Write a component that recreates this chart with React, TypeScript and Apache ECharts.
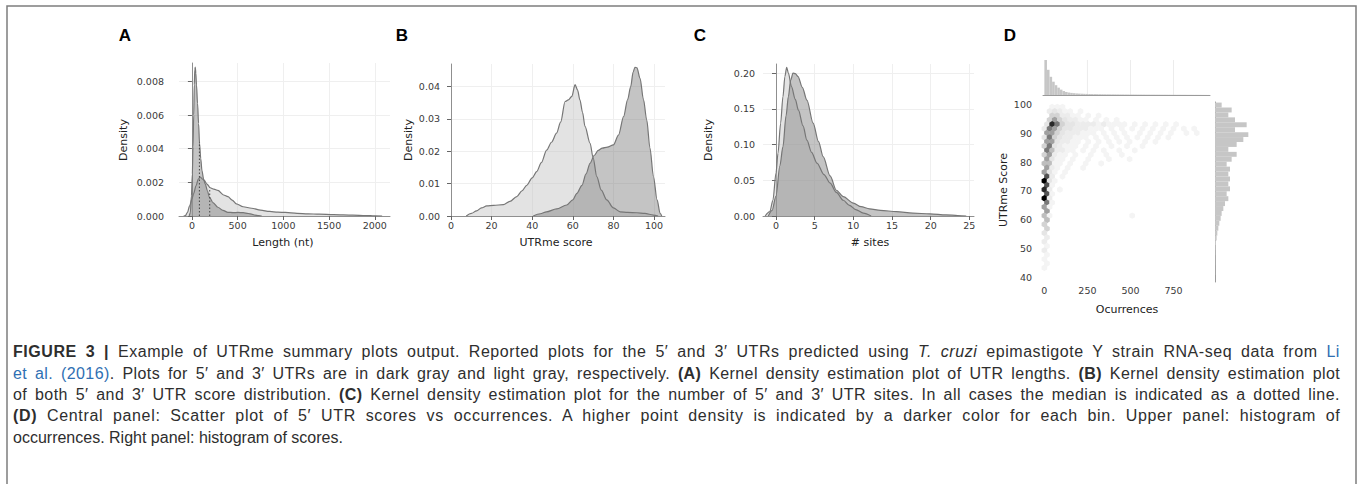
import React, { useEffect, useLayoutEffect, useRef } from "react";
import * as echarts from "echarts";

// ---------- Panel A : UTR length KDE ----------
const lenX5 = [-30, -17, -5, 5, 12, 20, 26, 32, 37, 43, 50, 62, 73, 84, 97, 110, 128, 146, 170, 191, 230, 284, 340, 394, 450, 504, 560, 616, 660, 689, 730, 763];
const lenD5 = [0, 0.0002, 0.0012, 0.0025, 0.0041, 0.006, 0.0078, 0.0087, 0.00885, 0.0085, 0.0078, 0.0067, 0.0055, 0.0043, 0.0034, 0.0027, 0.0022, 0.0019, 0.0015, 0.00112, 0.0008, 0.00052, 0.00033, 0.00022, 0.0002, 0.00021, 0.0002, 0.00015, 0.0001, 0.00005, 0.00002, 0];
const lenX3 = [-90, -72, -50, -25, 0, 19, 45, 70, 92, 115, 135, 165, 200, 240, 284, 346, 394, 440, 486, 560, 653, 750, 850, 940, 1021, 1150, 1270, 1390, 1550, 1759, 1900, 2000, 2080];
const lenD3 = [0, 0.00002, 0.0002, 0.0006, 0.001, 0.00133, 0.0018, 0.0022, 0.00232, 0.0022, 0.00212, 0.0019, 0.00168, 0.0016, 0.00152, 0.00125, 0.00115, 0.00095, 0.00072, 0.00055, 0.00046, 0.00035, 0.00027, 0.00023, 0.00021, 0.00016, 0.00013, 0.00011, 0.00008, 0.00005, 0.00003, 0.00001, 0];
const lenMedians = [82, 195];
const lenMedianHeights = [0.0044, 0.00168];
const lenTicks = [0, 500, 1000, 1500, 2000];
const lenDensityTicks = [0, 0.002, 0.004, 0.006, 0.008];

// ---------- Panel B : UTRme score KDE ----------
const scoreX5 = [40.5, 44, 47, 52, 57, 60, 62, 64.5, 66.5, 68.5, 70.5, 72.5, 74.5, 77, 80, 82.5, 85, 87, 88.5, 89.7, 90.6, 91.6, 93.1, 94.8, 96.4, 98, 99.7, 101.5, 103, 103.8];
const scoreD5 = [0, 0.0007, 0.0013, 0.0022, 0.0034, 0.005, 0.007, 0.0095, 0.013, 0.0163, 0.0187, 0.0203, 0.021, 0.0213, 0.022, 0.025, 0.0307, 0.036, 0.04, 0.0445, 0.046, 0.0458, 0.0426, 0.036, 0.0297, 0.021, 0.0122, 0.005, 0.0008, 0];
const scoreX3 = [7.5, 10, 12.6, 15, 17.6, 21, 25.8, 29, 32.4, 35, 37.3, 40, 42.2, 44.5, 47.1, 49.5, 52, 54, 56.2, 57.8, 59.5, 61.1, 62.3, 63.5, 64.8, 66, 68.5, 70, 71.8, 74, 76.7, 80, 83.3, 87, 91.5, 95.5, 99.7, 102];
const scoreD3 = [0, 0.0008, 0.0016, 0.0025, 0.0031, 0.0033, 0.0035, 0.0045, 0.006, 0.0078, 0.0095, 0.0118, 0.0137, 0.0165, 0.0204, 0.0228, 0.0256, 0.029, 0.0354, 0.0359, 0.037, 0.0406, 0.039, 0.0359, 0.032, 0.0277, 0.0225, 0.018, 0.0122, 0.008, 0.005, 0.0025, 0.0013, 0.0011, 0.001, 0.0008, 0.0003, 0];
const scoreTicks = [0, 20, 40, 60, 80, 100];
const scoreDensityTicks = [0, 0.01, 0.02, 0.03, 0.04];

// ---------- Panel C : number of sites KDE ----------
const sitesX5 = [-1.0, -0.5, 0, 0.5, 0.9, 1.3, 1.6, 1.9, 2.2, 2.5, 2.85, 3.4, 4.0, 4.8, 5.5, 6.1, 7.0, 7.8, 8.7, 10, 11, 12.1, 13.5, 15.6, 17.7, 19.9, 22, 23.5, 24.6];
const sitesD5 = [0, 0.008, 0.028, 0.07, 0.097, 0.14, 0.167, 0.19, 0.2, 0.199, 0.195, 0.18, 0.162, 0.13, 0.104, 0.083, 0.056, 0.036, 0.027, 0.018, 0.013, 0.01, 0.008, 0.006, 0.004, 0.003, 0.0015, 0.0007, 0];
const sitesX3 = [-1.4, -0.8, -0.4, 0, 0.26, 0.6, 0.9, 1.15, 1.38, 1.6, 2.0, 2.5, 2.9, 3.5, 4.0, 4.6, 5.3, 6.2, 7.0, 7.8, 8.7, 9.5, 10.3, 11.3, 12.3];
const sitesD3 = [0, 0.006, 0.022, 0.06, 0.088, 0.13, 0.167, 0.195, 0.208, 0.2, 0.181, 0.163, 0.148, 0.126, 0.106, 0.089, 0.074, 0.058, 0.046, 0.033, 0.022, 0.015, 0.009, 0.004, 0];
const sitesTicks = [0, 5, 10, 15, 20, 25];
const sitesDensityTicks = [0, 0.05, 0.1, 0.15, 0.2];

// ---------- Panel D : hexbin of score vs occurrences ----------
// rows: [score, [[occurrences, count], ...]]
const hexRows: [number, [number, number][]][] = [
  [99, [[45, 1], [75, 1], [105, 1]]],
  [97.5, [[30, 2], [60, 3], [90, 2], [120, 1], [150, 1], [210, 1]]],
  [96, [[45, 4], [75, 4], [105, 2], [135, 2], [165, 1], [195, 1], [255, 1], [315, 1]]],
  [94.5, [[30, 4], [60, 6], [90, 4], [120, 3], [150, 2], [180, 2], [210, 1], [240, 1], [300, 1], [360, 1], [420, 1]]],
  [93, [[15, 3], [45, 9], [75, 7], [105, 4], [135, 3], [165, 3], [195, 2], [225, 2], [255, 2], [285, 2], [315, 1], [345, 2], [375, 1], [405, 1], [435, 1], [465, 1], [525, 1], [585, 1], [645, 1], [705, 1], [765, 1]]],
  [91.5, [[0, 2], [30, 7], [60, 6], [90, 4], [120, 3], [150, 3], [180, 2], [210, 2], [240, 2], [270, 1], [300, 1], [330, 1], [390, 1], [450, 1], [510, 1], [570, 1], [630, 1], [690, 1], [750, 1], [810, 1], [870, 1]]],
  [90, [[15, 6], [45, 6], [75, 4], [105, 3], [135, 2], [165, 2], [195, 2], [225, 1], [255, 1], [285, 1], [345, 1], [405, 1], [465, 1], [555, 1], [615, 1], [675, 1], [735, 1], [825, 1], [885, 1]]],
  [88.5, [[0, 3], [30, 7], [60, 4], [90, 3], [120, 2], [150, 2], [180, 1], [210, 1], [240, 1], [300, 1], [360, 1], [420, 1], [480, 1], [540, 1], [600, 1], [660, 1], [720, 1]]],
  [87, [[15, 6], [45, 6], [75, 3], [105, 2], [135, 2], [165, 1], [195, 1], [255, 1], [315, 1], [375, 1], [435, 1], [495, 1], [585, 1], [645, 1]]],
  [85.5, [[0, 4], [30, 7], [60, 3], [90, 2], [120, 1], [150, 1], [180, 1], [240, 1], [300, 1], [390, 1], [480, 1], [570, 1]]],
  [84, [[15, 7], [45, 5], [75, 2], [105, 2], [135, 1], [165, 1], [225, 1], [285, 1], [345, 1], [435, 1], [525, 1]]],
  [82.5, [[0, 4], [30, 6], [60, 2], [90, 1], [120, 1], [180, 1], [270, 1], [360, 1], [450, 1]]],
  [81, [[15, 6], [45, 3], [75, 1], [105, 1], [165, 1], [255, 1], [375, 1], [495, 1]]],
  [79.5, [[0, 5], [30, 5], [60, 1], [90, 1], [150, 1], [240, 1], [330, 1]]],
  [78, [[15, 6], [45, 2], [75, 1], [135, 1], [225, 1]]],
  [76.5, [[0, 6], [30, 3], [60, 1], [120, 1]]],
  [75, [[15, 8], [45, 2], [105, 1]]],
  [73.5, [[0, 10], [30, 3], [60, 1]]],
  [72, [[15, 8], [45, 1]]],
  [70.5, [[0, 9], [30, 2], [90, 1]]],
  [69, [[15, 8], [45, 1]]],
  [67.5, [[0, 10], [30, 2]]],
  [66, [[15, 7], [45, 1]]],
  [64.5, [[0, 6], [30, 1]]],
  [63, [[15, 6]]],
  [61.5, [[0, 5], [30, 1], [510, 1]]],
  [60, [[15, 5]]],
  [58.5, [[0, 4]]],
  [57, [[15, 4]]],
  [55.5, [[0, 3]]],
  [54, [[15, 2]]],
  [52.5, [[0, 2]]],
  [51, [[15, 1]]],
  [49.5, [[0, 2]]],
  [48, [[15, 1]]],
  [46.5, [[0, 1]]],
  [45, [[15, 1]]],
  [43.5, [[0, 1]]],
];
const occTicks = [0, 250, 500, 750];
const jointScoreTicks = [40, 50, 60, 70, 80, 90, 100];
const occGridValues = [250, 500, 750];

// marginal histogram of occurrences (bins of equal width from occHistStart)
const occHistStart = 0;
const occHistWidth = 15;
const occHistCounts = [1500, 1080, 780, 570, 420, 315, 230, 170, 130, 105, 90, 78, 68, 60, 55, 50, 46, 43, 40, 38, 36, 34, 32, 30, 29, 28, 27, 26, 25, 24, 23, 22, 21, 20, 20, 19, 18, 18, 17, 16, 16, 15, 15, 14, 14, 13, 13, 12, 12, 11, 11, 10, 10, 9, 9, 8, 8, 7, 7, 6, 6, 5, 4, 3];

// marginal histogram of scores (bins of equal width from scoreHistStart, low -> high)
const scoreHistStart = 41.0;
const scoreHistWidth = 1.7;
const scoreHistCounts = [6, 6, 10, 10, 15, 20, 30, 50, 70, 100, 130, 170, 200, 250, 300, 400, 350, 450, 400, 450, 400, 450, 350, 500, 650, 400, 650, 850, 1000, 600, 950, 600, 400, 500, 200];

// ---------- layout ----------
const W = 1358;
const H = 484;
const CAP_LEFT = 13;
const CAP_WIDTH = 1327;
const capTops = [352, 373.5, 395, 416, 437.5];

const tickFont = { fontFamily: '"DejaVu Sans", sans-serif', fontSize: 9.5, color: "#3a3a3a" };
const spine = { show: true, lineStyle: { color: "#8f8f8f", width: 1 } };
const grid = { show: true, lineStyle: { color: "#efefef", width: 1 } };
const tick = (vals: number[]) => ({ show: true, length: 4, customValues: vals, lineStyle: { color: "#666", width: 1 } });

const pairs = (xs: number[], ys: number[]) => xs.map((x, i) => [x, ys[i]]);

const DARK = "#7c7c7c";
const LIGHT = "#c2c2c2";

function kde(name: string, axis: number, xs: number[], ys: number[], fill: string, opacity: number) {
  return {
    type: "line",
    name,
    xAxisIndex: axis,
    yAxisIndex: axis,
    data: pairs(xs, ys),
    showSymbol: false,
    symbol: "none",
    smooth: 0.3,
    smoothMonotone: "x",
    lineStyle: { color: "#767676", width: 1.2 },
    areaStyle: { color: fill, opacity },
    silent: true,
    z: 2,
  };
}

function vline(axis: number, x: number, top: number, color: string, type: any, z: number) {
  return {
    type: "line",
    xAxisIndex: axis,
    yAxisIndex: axis,
    data: [[x, 0], [x, top]],
    showSymbol: false,
    symbol: "none",
    lineStyle: { color, width: 1, type },
    silent: true,
    z,
  };
}

function buildOption() {
  const hexCells: number[][] = [];
  hexRows.forEach(([score, cells]) => cells.forEach(([occ, c]) => hexCells.push([occ, score, c])));

  const occHist = occHistCounts.map((c, i) => [occHistStart + i * occHistWidth, occHistStart + (i + 1) * occHistWidth, c]);
  const scoreHist = scoreHistCounts.map((c, i) => [scoreHistStart + i * scoreHistWidth, scoreHistStart + (i + 1) * scoreHistWidth, c]);

  const valAxis = (gridIndex: number, min: number, max: number, ticks: number[], fmt: (v: number) => string, margin: number, showGrid = true) => ({
    type: "value",
    gridIndex,
    min,
    max,
    axisLine: spine,
    axisTick: tick(ticks),
    axisLabel: { ...tickFont, margin, customValues: ticks, formatter: fmt },
    splitLine: showGrid ? grid : { show: false },
  });

  const hidden = (gridIndex: number, min: number, max: number, line = false) => ({
    type: "value",
    gridIndex,
    min,
    max,
    axisLine: { show: line, lineStyle: { color: "#9a9a9a", width: 1 } },
    axisTick: { show: false },
    axisLabel: { show: false },
    splitLine: { show: false },
  });

  const txt = (x: number, y: number, text: string, size: number, opts: any = {}) => ({
    type: "text",
    x,
    y,
    rotation: opts.rotation || 0,
    silent: true,
    style: {
      text,
      fontSize: size,
      fontFamily: opts.family || '"DejaVu Sans", sans-serif',
      fontWeight: opts.weight || "normal",
      fill: opts.fill || "#222",
      align: "center",
      verticalAlign: "middle",
    },
  });

  const letter = { family: '"Liberation Sans", Arial, sans-serif', weight: "bold", fill: "#000" };

  return {
    animation: false,
    backgroundColor: "#ffffff",
    grid: [
      { left: 179, top: 63, width: 211, height: 153 },
      { left: 451, top: 64, width: 214, height: 152 },
      { left: 763, top: 64, width: 211, height: 152 },
      { left: 1043, top: 102, width: 167, height: 180 },
      { left: 1043, top: 60, width: 167, height: 35 },
      { left: 1215, top: 102, width: 40, height: 180 },
    ],
    xAxis: [
      valAxis(0, -141, 2166, lenTicks, (v) => String(v), 4),
      valAxis(1, 0, 105.4, scoreTicks, (v) => String(v), 4),
      valAxis(2, -1.68, 25.6, sitesTicks, (v) => String(v), 4),
      {
        type: "value",
        gridIndex: 3,
        min: -8,
        max: 962,
        axisLine: { show: false },
        axisTick: { show: false },
        axisLabel: { ...tickFont, margin: 3, customValues: occTicks, formatter: (v: number) => String(v) },
        splitLine: { show: false },
      },
      hidden(4, -8, 962, true),
      hidden(5, 0, 1200),
    ],
    yAxis: [
      valAxis(0, 0, 0.0091, lenDensityTicks, (v) => v.toFixed(3), 15),
      valAxis(1, 0, 0.047, scoreDensityTicks, (v) => v.toFixed(2), 11),
      valAxis(2, 0, 0.2126, sitesDensityTicks, (v) => v.toFixed(2), 8),
      {
        type: "value",
        gridIndex: 3,
        min: 38.6,
        max: 100.7,
        axisLine: { show: false },
        axisTick: { show: false },
        axisLabel: { ...tickFont, margin: 11, customValues: jointScoreTicks, formatter: (v: number) => String(v) },
        splitLine: { show: false },
      },
      hidden(4, 0, 1500),
      hidden(5, 38.6, 100.7, true),
    ],
    visualMap: [
      {
        type: "continuous",
        show: false,
        seriesIndex: 10,
        dimension: 2,
        min: 1,
        max: 10,
        inRange: { color: ["#f4f4f4", "#e3e3e3", "#b4b4b4", "#5c5c5c", "#000000"] },
      },
    ],
    series: [
      kde("3' UTR length", 0, lenX3, lenD3, LIGHT, 0.45),
      kde("5' UTR length", 0, lenX5, lenD5, DARK, 0.45),
      vline(0, lenMedians[0], lenMedianHeights[0], "#444", [1.5, 2], 4),
      vline(0, lenMedians[1], lenMedianHeights[1], "#444", [1.5, 2], 4),
      kde("3' UTR score", 1, scoreX3, scoreD3, LIGHT, 0.45),
      kde("5' UTR score", 1, scoreX5, scoreD5, DARK, 0.45),
      kde("3' UTR sites", 2, sitesX3, sitesD3, LIGHT, 0.45),
      kde("5' UTR sites", 2, sitesX5, sitesD5, DARK, 0.45),
      vline(4, occGridValues[0], 1500, "#ececec", "solid", 1),
      vline(4, occGridValues[1], 1500, "#ececec", "solid", 1),
      {
        type: "scatter",
        xAxisIndex: 3,
        yAxisIndex: 3,
        data: hexCells,
        symbol: "path://M0,-10L8.66,-5L8.66,5L0,10L-8.66,5L-8.66,-5Z",
        symbolSize: [5.6, 6.4],
        itemStyle: { opacity: 1 },
        silent: true,
        z: 3,
      },
      vline(4, occGridValues[2], 1500, "#ececec", "solid", 1),
      {
        type: "custom",
        xAxisIndex: 4,
        yAxisIndex: 4,
        data: occHist,
        encode: { x: [0, 1], y: 2 },
        silent: true,
        z: 3,
        renderItem: (params: any, api: any) => {
          const p0 = api.coord([api.value(0), api.value(2)]);
          const p1 = api.coord([api.value(1), 0]);
          return {
            type: "rect",
            shape: { x: p0[0], y: p0[1], width: p1[0] - p0[0], height: p1[1] - p0[1] },
            style: { fill: "#c6c6c6", stroke: null },
          };
        },
      },
      {
        type: "custom",
        xAxisIndex: 5,
        yAxisIndex: 5,
        data: scoreHist,
        encode: { y: [0, 1], x: 2 },
        silent: true,
        z: 3,
        renderItem: (params: any, api: any) => {
          const p0 = api.coord([0, api.value(1)]);
          const p1 = api.coord([api.value(2), api.value(0)]);
          return {
            type: "rect",
            shape: { x: p0[0], y: p0[1], width: p1[0] - p0[0], height: p1[1] - p0[1] },
            style: { fill: "#c6c6c6", stroke: null },
          };
        },
      },
    ],
    graphic: [
      {
        type: "rect",
        silent: true,
        shape: { x: 7, y: 6, width: 1349, height: 540 },
        style: { fill: "none", stroke: "#7d7d7d", lineWidth: 1.5 },
      },
      txt(125, 35, "A", 17, letter),
      txt(402, 35, "B", 17, letter),
      txt(700, 35, "C", 17, letter),
      txt(1010, 35, "D", 17, letter),
      txt(123, 140, "Density", 11, { rotation: Math.PI / 2 }),
      txt(408, 140, "Density", 11, { rotation: Math.PI / 2 }),
      txt(708, 140, "Density", 11, { rotation: Math.PI / 2 }),
      txt(1003, 190, "UTRme Score", 11, { rotation: Math.PI / 2 }),
      txt(283, 242, "Length (nt)", 11),
      txt(556, 242, "UTRme score", 11),
      txt(870, 242, "# sites", 11),
      txt(1127, 309, "Ocurrences", 11),
    ],
  };
}

const link = { color: "#2f6fb3" };

const captionLines: React.ReactNode[] = [
  <>
    <b>FIGURE 3 |</b> Example of UTRme summary plots output. Reported plots for the 5′ and 3′ UTRs predicted using <i>T. cruzi</i> epimastigote Y strain RNA-seq data from <span style={link}>Li</span>
  </>,
  <>
    <span style={link}>et al. (2016)</span>. Plots for 5′ and 3′ UTRs are in dark gray and light gray, respectively. <b>(A)</b> Kernel density estimation plot of UTR lengths. <b>(B)</b> Kernel density estimation plot
  </>,
  <>
    of both 5′ and 3′ UTR score distribution. <b>(C)</b> Kernel density estimation plot for the number of 5′ and 3′ UTR sites. In all cases the median is indicated as a dotted line.
  </>,
  <>
    <b>(D)</b> Central panel: Scatter plot of 5′ UTR scores vs occurrences. A higher point density is indicated by a darker color for each bin. Upper panel: histogram of
  </>,
  <>occurrences. Right panel: histogram of scores.</>,
];

export default function App() {
  const chartRef = useRef<HTMLDivElement | null>(null);
  const lineRefs = useRef<(HTMLSpanElement | null)[]>([]);

  useEffect(() => {
    const chart = echarts.init(chartRef.current as HTMLDivElement, null, { renderer: "svg" });
    chart.setOption(buildOption() as any);
    return () => chart.dispose();
  }, []);

  useLayoutEffect(() => {
    const fit = () => {
      lineRefs.current.forEach((el, i) => {
        if (!el) return;
        el.style.wordSpacing = "0px";
        el.style.letterSpacing = "0px";
        el.style.transform = "none";
        if (i === captionLines.length - 1) return;
        const natural = el.offsetWidth;
        const text = el.textContent || "";
        const spaces = (text.match(/ /g) || []).length;
        const chars = text.length;
        if (natural <= CAP_WIDTH) {
          const extra = CAP_WIDTH - natural;
          const ls = (extra * 0.45) / Math.max(1, chars);
          el.style.letterSpacing = ls + "px";
          const after = el.offsetWidth;
          el.style.wordSpacing = (CAP_WIDTH - after) / Math.max(1, spaces) + "px";
        } else {
          el.style.transformOrigin = "0 50%";
          el.style.transform = `scaleX(${CAP_WIDTH / natural})`;
        }
      });
    };
    fit();
    if ((document as any).fonts && (document as any).fonts.ready) {
      (document as any).fonts.ready.then(fit);
    }
  }, []);

  return (
    <div style={{ position: "absolute", left: 0, top: 0, width: W, height: H, overflow: "hidden", background: "#fff" }}>
      <div ref={chartRef} style={{ position: "absolute", left: 0, top: 0, width: W, height: H }} />
      {captionLines.map((line, i) => (
        <div
          key={i}
          style={{
            position: "absolute",
            left: CAP_LEFT,
            top: capTops[i] - 10,
            height: 20,
            lineHeight: "20px",
            whiteSpace: "nowrap",
            fontFamily: '"Liberation Sans", Arial, sans-serif',
            fontSize: 16,
            color: "#2e2e2e",
          }}
        >
          <span ref={(el) => { lineRefs.current[i] = el; }} style={{ display: "inline-block", whiteSpace: "nowrap" }}>
            {line}
          </span>
        </div>
      ))}
    </div>
  );
}
